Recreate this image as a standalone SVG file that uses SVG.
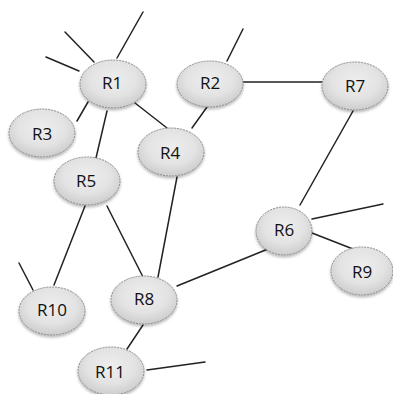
<svg xmlns="http://www.w3.org/2000/svg" width="393" height="394" viewBox="0 0 393 394">
<defs>
<radialGradient id="g" cx="0.5" cy="0.4" r="0.6">
<stop offset="0" stop-color="#eeeeee"/>
<stop offset="0.6" stop-color="#e3e3e3"/>
<stop offset="1" stop-color="#cdcdcd"/>
</radialGradient>
<filter id="sh" x="-20%" y="-20%" width="140%" height="150%">
<feGaussianBlur in="SourceAlpha" stdDeviation="1.5"/>
<feOffset dx="0" dy="2" result="b"/>
<feComponentTransfer><feFuncA type="linear" slope="0.3"/></feComponentTransfer>
<feMerge><feMergeNode/><feMergeNode in="SourceGraphic"/></feMerge>
</filter>
</defs>
<style>
.e{fill:url(#g);stroke:#8a8a8a;stroke-width:1;stroke-dasharray:2 1;filter:url(#sh)}
.t{font-family:"Open Sans","Liberation Sans",sans-serif;font-size:17px;fill:#111111;text-anchor:middle;dominant-baseline:central}
.c line{stroke:#222222;stroke-width:1.5;stroke-linecap:round}
</style>
<rect width="393" height="394" fill="#ffffff"/>
<g class="c" id="connectors">
<line x1="117" y1="58" x2="143" y2="12"/>
<line x1="65" y1="32" x2="94" y2="62"/>
<line x1="46" y1="57" x2="79" y2="71"/>
<line x1="88" y1="102" x2="77" y2="121"/>
<line x1="107" y1="111" x2="96" y2="158"/>
<line x1="135" y1="103" x2="167" y2="128"/>
<line x1="192" y1="128" x2="207" y2="107"/>
<line x1="227" y1="61" x2="243" y2="29"/>
<line x1="243" y1="82" x2="322" y2="82"/>
<line x1="353" y1="111" x2="300" y2="205"/>
<line x1="177" y1="177" x2="158" y2="277"/>
<line x1="85" y1="206" x2="54" y2="285"/>
<line x1="107" y1="206" x2="143" y2="277"/>
<line x1="19" y1="263" x2="33" y2="290"/>
<line x1="177" y1="286" x2="268" y2="249"/>
<line x1="143" y1="325" x2="127" y2="349"/>
<line x1="147" y1="370" x2="205" y2="362"/>
<line x1="312" y1="219" x2="383" y2="204"/>
<line x1="312" y1="233" x2="353" y2="249"/>
</g>
<g id="R1"><ellipse class="e" cx="113" cy="84" rx="33" ry="24"/><text class="t" x="112" y="82">R1</text></g>
<g id="R2"><ellipse class="e" cx="210" cy="84" rx="33" ry="23"/><text class="t" x="210" y="82">R2</text></g>
<g id="R3"><ellipse class="e" cx="42" cy="133" rx="33" ry="24"/><text class="t" x="42" y="133">R3</text></g>
<g id="R4"><ellipse class="e" cx="171" cy="152" rx="33" ry="24"/><text class="t" x="170" y="152">R4</text></g>
<g id="R5"><ellipse class="e" cx="87" cy="181" rx="33" ry="24"/><text class="t" x="86" y="180">R5</text></g>
<g id="R7"><ellipse class="e" cx="355" cy="86" rx="33" ry="24"/><text class="t" x="355" y="85">R7</text></g>
<g id="R6"><ellipse class="e" cx="284" cy="231" rx="28" ry="24"/><text class="t" x="284" y="229">R6</text></g>
<g id="R9"><ellipse class="e" cx="362" cy="271" rx="31" ry="24"/><text class="t" x="362" y="271">R9</text></g>
<g id="R10"><ellipse class="e" cx="52" cy="311" rx="33" ry="24"/><text class="t" x="52" y="309">R10</text></g>
<g id="R8"><ellipse class="e" cx="144" cy="300" rx="33" ry="24"/><text class="t" x="144" y="298">R8</text></g>
<g id="R11"><ellipse class="e" cx="111" cy="371" rx="33" ry="24"/><text class="t" x="110" y="371">R11</text></g>
</svg>
